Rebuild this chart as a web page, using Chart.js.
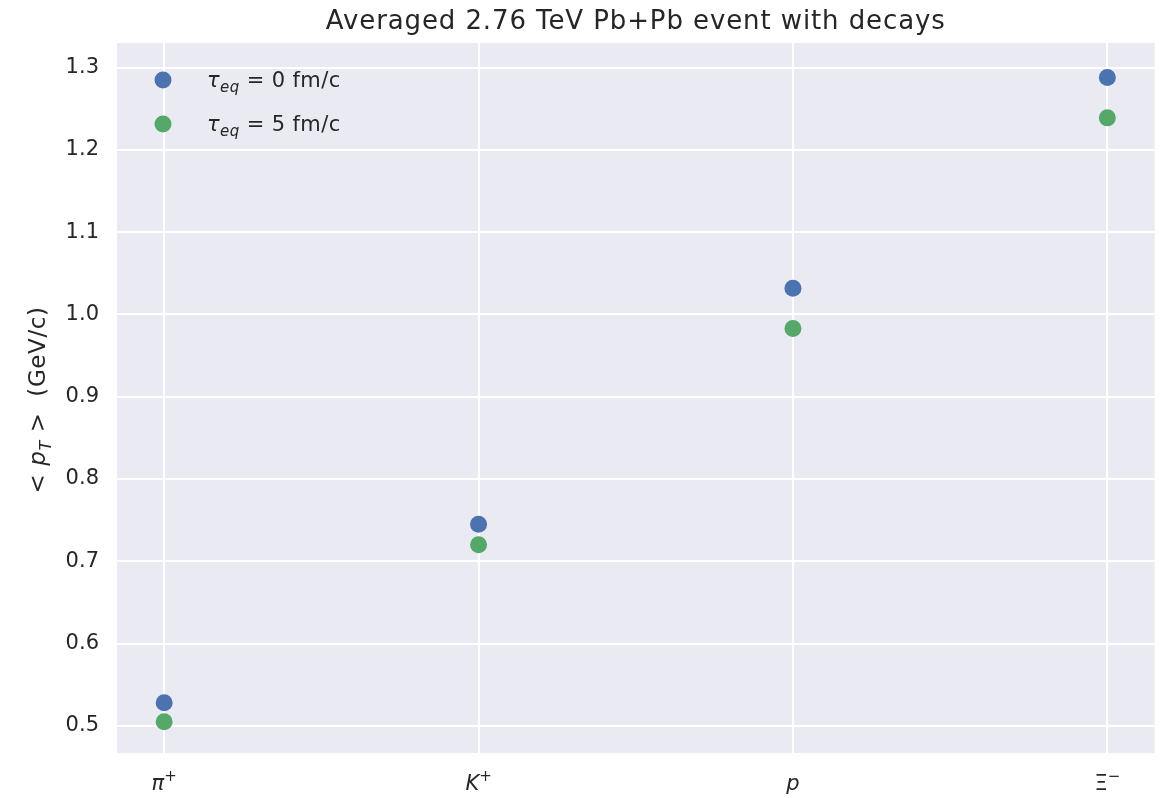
<!DOCTYPE html>
<html>
<head>
<meta charset="utf-8">
<script src="https://cdn.jsdelivr.net/npm/chart.js@4/dist/chart.umd.min.js"></script>
<style>
  html, body { margin: 0; padding: 0; background: #ffffff; }
  #wrap { width: 1163px; height: 798px; }
</style>
</head>
<body>
<div id="wrap"><canvas id="c" width="1163" height="798"></canvas></div>
<script>
// particle species along the x axis
const species = ['pi', 'K', 'p', 'Xi'];
// mean pT (GeV/c) for the two equilibration times
const meanPtTau0 = [0.528, 0.745, 1.032, 1.288];
const meanPtTau5 = [0.505, 0.720, 0.983, 1.239];
const yTicks = [0.5, 0.6, 0.7, 0.8, 0.9, 1.0, 1.1, 1.2, 1.3];
const xTicks = [0, 1, 2, 3];

const FONT = '"DejaVu Sans", sans-serif';
const TXT = '#262626';
const BLUE = '#4C72B0';
const GREEN = '#55A868';

// label pieces for each species: mixed italic / superscript text
const speciesLabel = {
    pi: [{ t: 'π', it: true }, { t: '+', sup: true }],
    K:  [{ t: 'K', it: true }, { t: '+', sup: true }],
    p:  [{ t: 'p', it: true }],
    Xi: [{ t: 'Ξ' }, { t: '−', sup: true }]
};

function runFont(r, size) {
    const s = (r.sub || r.sup) ? Math.round(size * 0.7) : size;
    return (r.it ? 'italic ' : '') + s + 'px ' + FONT;
}

// draws a row of text runs, starting at x (or centred on it), on baseline y
function drawRich(ctx, runs, x, y, size, align, spacing) {
    ctx.letterSpacing = (spacing || 0) + 'px';
    let total = 0;
    const widths = runs.map(r => {
        ctx.font = runFont(r, size);
        const w = ctx.measureText(r.t).width;
        total += w;
        return w;
    });
    let cx = align === 'center' ? x - total / 2 : x;
    ctx.textAlign = 'left';
    ctx.textBaseline = 'alphabetic';
    runs.forEach((r, i) => {
        ctx.font = runFont(r, size);
        let dy = 0;
        if (r.sub) dy = size * 0.25;
        if (r.sup) dy = -size * 0.45;
        ctx.fillText(r.t, cx, y + dy);
        cx += widths[i];
    });
    ctx.letterSpacing = '0px';
}

const decorations = {
    id: 'decorations',
    beforeDraw(chart) {
        const { ctx, chartArea: a } = chart;
        ctx.save();
        ctx.fillStyle = '#EAEAF2';
        ctx.fillRect(a.left, a.top, a.right - a.left, a.bottom - a.top);
        ctx.restore();
    },
    afterDraw(chart) {
        const { ctx, chartArea: a } = chart;
        const xs = chart.scales.x;
        ctx.save();
        ctx.fillStyle = TXT;

        // title
        drawRich(ctx, [{ t: 'Averaged 2.76 TeV Pb+Pb event with decays' }],
            (a.left + a.right) / 2, 29, 26, 'center', 0.9);

        // x tick labels
        xTicks.forEach(v => {
            drawRich(ctx, speciesLabel[species[v]], xs.getPixelForValue(v), 790, 21, 'center');
        });

        // y axis title
        ctx.save();
        ctx.translate(45, 400);
        ctx.rotate(-Math.PI / 2);
        drawRich(ctx, [
            { t: '< ' }, { t: 'p', it: true }, { t: 'T', it: true, sub: true }, { t: ' >  (GeV/c)' }
        ], 0, 0, 23, 'center', 0.6);
        ctx.restore();

        // legend
        const rows = [
            { color: BLUE, val: '0', y: 80 },
            { color: GREEN, val: '5', y: 124 }
        ];
        rows.forEach(r => {
            ctx.fillStyle = r.color;
            ctx.beginPath();
            ctx.arc(163, r.y, 8.5, 0, Math.PI * 2);
            ctx.fill();
            ctx.fillStyle = TXT;
            drawRich(ctx, [
                { t: 'τ', it: true }, { t: 'eq', it: true, sub: true },
                { t: ' = ' + r.val }, { t: ' fm/c' }
            ], 207, r.y + 7, 21, 'left', 0.4);
        });
        ctx.restore();
    }
};

new Chart(document.getElementById('c'), {
    type: 'scatter',
    data: {
        datasets: [
            {
                label: 'tau_eq = 0 fm/c',
                data: meanPtTau0.map((v, i) => ({ x: i, y: v })),
                backgroundColor: BLUE,
                borderWidth: 0,
                pointRadius: 8.5,
                pointHoverRadius: 8.5
            },
            {
                label: 'tau_eq = 5 fm/c',
                data: meanPtTau5.map((v, i) => ({ x: i, y: v })),
                backgroundColor: GREEN,
                borderWidth: 0,
                pointRadius: 8.5,
                pointHoverRadius: 8.5
            }
        ]
    },
    options: {
        responsive: false,
        animation: false,
        layout: { padding: { top: 43, right: 8, bottom: 0, left: 0 } },
        plugins: {
            legend: { display: false },
            tooltip: { enabled: false },
            title: { display: false }
        },
        scales: {
            x: {
                type: 'linear',
                min: -0.15,
                max: 3.15,
                afterBuildTicks: s => { s.ticks = xTicks.map(v => ({ value: v })); },
                afterFit: s => { s.height = 45; },
                grid: { color: '#ffffff', lineWidth: 2, drawTicks: false },
                border: { display: false },
                ticks: { display: false }
            },
            y: {
                type: 'linear',
                min: 0.467,
                max: 1.330,
                afterBuildTicks: s => { s.ticks = yTicks.map(v => ({ value: v })); },
                afterFit: s => { s.width = 117; },
                grid: { color: '#ffffff', lineWidth: 2, drawTicks: false },
                border: { display: false },
                ticks: {
                    padding: 18,
                    color: TXT,
                    font: { family: 'DejaVu Sans', size: 21 },
                    callback: v => v.toFixed(1)
                }
            }
        }
    },
    plugins: [decorations]
});
</script>
</body>
</html>
